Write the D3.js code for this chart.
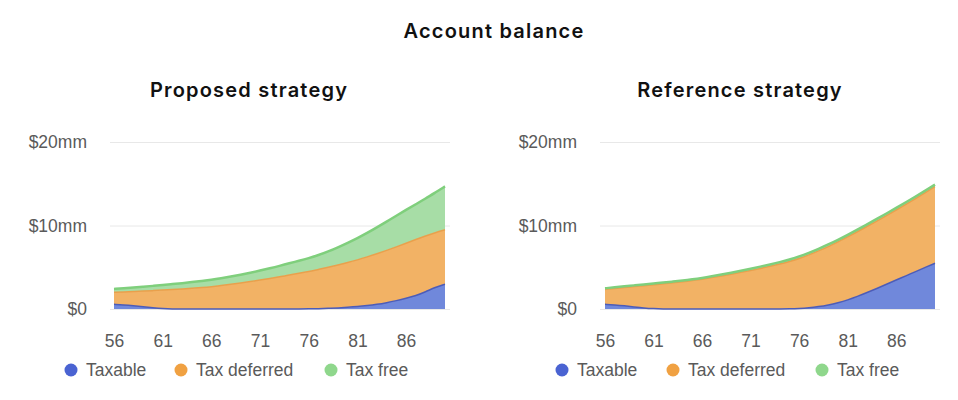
<!DOCTYPE html>
<html>
<head>
<meta charset="utf-8">
<script src="https://cdn.jsdelivr.net/npm/d3@7"></script>
<style>
  body { margin: 0; background: #fff; }
  .title { font-family: Inter, "Noto Sans", sans-serif; font-weight: 600; fill: #111; letter-spacing: 1.2px; }
  .tick text, .legend text { font-family: "Liberation Sans", Arial, sans-serif; fill: #5a5a5a; }
</style>
</head>
<body>
<div id="chart"></div>
<script>
// ages on x axis
var ages = d3.range(56, 91);
var xTicks = [56, 61, 66, 71, 76, 81, 86];
var yTicks = [0, 10, 20];
var seriesNames = ["Taxable", "Tax deferred", "Tax free"];

// proposed strategy, $mm per age
var proposedTaxable = [0.56, 0.5, 0.4, 0.28, 0.15, 0.05, 0, 0, 0, 0, 0, 0, 0, 0, 0, 0, 0, 0, 0, 0,
  0.02, 0.04, 0.08, 0.13, 0.2, 0.28, 0.4, 0.55, 0.75, 1.0, 1.28, 1.6, 2.05, 2.6, 2.96];
var proposedDeferred = [1.44, 1.54, 1.69, 1.86, 2.05, 2.21, 2.33, 2.4, 2.48, 2.57, 2.67, 2.81, 2.96, 3.12, 3.29,
  3.47, 3.66, 3.86, 4.07, 4.27, 4.46, 4.7, 4.92, 5.14, 5.36, 5.6, 5.84, 6.07, 6.27, 6.44, 6.6, 6.72, 6.69, 6.54, 6.52];
var proposedFree = [0.4, 0.44, 0.48, 0.53, 0.57, 0.61, 0.65, 0.69, 0.74, 0.79, 0.83, 0.87, 0.92, 0.98, 1.05,
  1.13, 1.21, 1.3, 1.41, 1.5, 1.6, 1.72, 1.88, 2.11, 2.36, 2.6, 2.86, 3.15, 3.45, 3.73, 3.99, 4.23, 4.48, 4.81, 5.2];

// reference strategy
var referenceTaxable = [0.56, 0.48, 0.38, 0.25, 0.12, 0.04, 0, 0, 0, 0, 0, 0, 0, 0, 0, 0, 0, 0, 0,
  0.02, 0.06, 0.14, 0.28, 0.48, 0.75, 1.08, 1.5, 1.97, 2.45, 2.96, 3.47, 3.97, 4.48, 4.98, 5.48];
var referenceDeferred = [1.77, 1.97, 2.19, 2.43, 2.67, 2.86, 3.01, 3.13, 3.25, 3.4, 3.57, 3.76, 3.96, 4.17, 4.39,
  4.62, 4.86, 5.11, 5.37, 5.67, 5.97, 6.33, 6.67, 6.99, 7.28, 7.55, 7.75, 7.92, 8.08, 8.23, 8.38, 8.56, 8.74, 8.95, 9.17];
var referenceFree = [0.15, 0.15, 0.15, 0.15, 0.15, 0.15, 0.15, 0.15, 0.15, 0.15, 0.15, 0.16, 0.17, 0.18, 0.19,
  0.2, 0.21, 0.22, 0.23, 0.24, 0.25, 0.25, 0.25, 0.25, 0.25, 0.25, 0.25, 0.25, 0.25, 0.25, 0.25, 0.25, 0.25, 0.25, 0.25];

var fills = ["#7088db", "#f2b265", "#a7dda6"];
var strokes = ["#4c5cb8", "#e9a04c", "#7fcf7c"];
var dots = ["#4a63d2", "#f0a142", "#8fd78c"];

var width = 958, height = 400;
var svg = d3.select("#chart").append("svg")
  .attr("width", width)
  .attr("height", height);

svg.append("text")
  .attr("class", "title")
  .attr("x", 494)
  .attr("y", 38)
  .attr("text-anchor", "middle")
  .style("font-size", "20px")
  .text("Account balance");

function drawPanel(cfg) {
  var g = svg.append("g").attr("transform", "translate(" + cfg.left + ",0)");

  var x = d3.scaleLinear().domain([56, 90]).range([cfg.x0, cfg.x1]);
  var y = d3.scaleLinear().domain([0, 20]).range([309, 142]);

  g.append("text")
    .attr("class", "title")
    .attr("x", cfg.titleX)
    .attr("y", 97)
    .attr("text-anchor", "middle")
    .style("font-size", "20px")
    .text(cfg.title);

  // y axis: grid lines with labels on the left
  var yAxis = g.append("g")
    .attr("transform", "translate(" + cfg.gx0 + ",0)")
    .call(d3.axisLeft(y).tickValues(yTicks).tickSize(0).tickPadding(23)
      .tickFormat(function(d) { return d == 0 ? "$0" : "$" + d + "mm"; }));
  yAxis.select(".domain").remove();
  yAxis.selectAll(".tick line")
    .attr("x2", cfg.gx1 - cfg.gx0)
    .attr("stroke", "#e8e8e8");
  yAxis.selectAll(".tick text").style("font-size", "17.5px");

  var stacked = d3.stack().keys([0, 1, 2])(ages.map(function(a, i) {
    return { age: a, 0: cfg.taxable[i], 1: cfg.deferred[i], 2: cfg.free[i] };
  }));

  var area = d3.area()
    .curve(d3.curveBasis)
    .x(function(d) { return x(d.data.age); })
    .y0(function(d) { return y(d[0]); })
    .y1(function(d) { return y(d[1]); });

  var topLine = d3.line()
    .curve(d3.curveBasis)
    .x(function(d) { return x(d.data.age); })
    .y(function(d) { return y(d[1]); });

  g.selectAll(".layer")
    .data(stacked)
    .enter().append("path")
    .attr("class", "layer")
    .attr("d", area)
    .attr("fill", function(d, i) { return fills[i]; });

  g.selectAll(".edge")
    .data(stacked)
    .enter().append("path")
    .attr("class", "edge")
    .attr("d", topLine)
    .attr("fill", "none")
    .attr("stroke", function(d, i) { return strokes[i]; })
    .attr("stroke-width", function(d, i) { return i == 2 ? 2.5 : 1.5; });

  // x axis labels only
  var xAxis = g.append("g")
    .attr("transform", "translate(0,309)")
    .call(d3.axisBottom(x).tickValues(xTicks).tickSize(0).tickPadding(26));
  xAxis.select(".domain").remove();
  xAxis.selectAll(".tick text").style("font-size", "17.5px");

  var legend = g.append("g").attr("class", "legend");
  var item = legend.selectAll("g")
    .data(seriesNames)
    .enter().append("g")
    .attr("transform", function(d, i) { return "translate(" + cfg.legendX[i] + ",370)"; });
  item.append("circle")
    .attr("r", 6.5)
    .attr("fill", function(d, i) { return dots[i]; });
  item.append("text")
    .attr("x", 15)
    .attr("dy", "0.35em")
    .style("font-size", "17.5px")
    .text(function(d) { return d; });
}

drawPanel({
  left: 0, title: "Proposed strategy", titleX: 249,
  x0: 114, x1: 445, gx0: 110, gx1: 450,
  legendX: [71, 181, 331],
  taxable: proposedTaxable, deferred: proposedDeferred, free: proposedFree
});

drawPanel({
  left: 490, title: "Reference strategy", titleX: 250,
  x0: 115, x1: 445, gx0: 110, gx1: 450,
  legendX: [72, 183, 332],
  taxable: referenceTaxable, deferred: referenceDeferred, free: referenceFree
});
</script>
</body>
</html>
